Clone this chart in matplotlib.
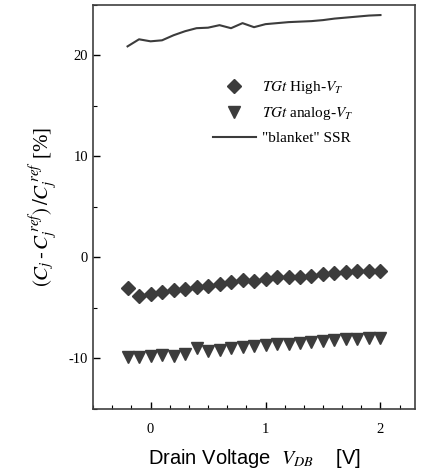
import matplotlib
matplotlib.use("Agg")
import matplotlib.pyplot as plt
from matplotlib.ticker import MultipleLocator

plt.rcParams['font.family'] = ['Liberation Serif', 'DejaVu Serif']
plt.rcParams['mathtext.fontset'] = 'stix'
plt.rcParams['axes.unicode_minus'] = False

# drain voltage steps
vdb = [-0.2, -0.1, 0.0, 0.1, 0.2, 0.3, 0.4, 0.5, 0.6, 0.7, 0.8, 0.9,
       1.0, 1.1, 1.2, 1.3, 1.4, 1.5, 1.6, 1.7, 1.8, 1.9, 2.0]

# TGt High-VT (diamonds)
high_vt = [-3.0, -3.8, -3.57, -3.4, -3.23, -3.13, -2.97, -2.8, -2.63, -2.4, -2.23, -2.37,
           -2.13, -1.97, -1.97, -1.97, -1.8, -1.63, -1.57, -1.47, -1.37, -1.37, -1.3]

# TGt analog-VT (triangles)
analog_vt = [-9.9, -9.9, -9.8, -9.7, -9.8, -9.57, -9.0, -9.3, -9.13, -8.97, -8.9, -8.8,
             -8.63, -8.57, -8.53, -8.47, -8.4, -8.3, -8.13, -8.03, -8.03, -7.97, -7.97]

# "blanket" SSR
blanket = [20.9, 21.6, 21.4, 21.5, 22.0, 22.4, 22.7, 22.75, 23.0, 22.7, 23.2, 22.8,
           23.1, 23.2, 23.3, 23.35, 23.4, 23.5, 23.65, 23.75, 23.85, 23.95, 24.0]

fig = plt.figure(figsize=(4.23, 4.72), dpi=100)
ax = fig.add_axes([0.22, 0.1335, 0.761, 0.856])

col = '#3c3c3c'
ax.plot(vdb, high_vt, linestyle='none', marker='D', markersize=7.5, color=col,
        label=r'$TGt$ High-$V_T$')
ax.plot(vdb, analog_vt, linestyle='none', marker='v', markersize=9, color=col,
        label=r'$TGt$ analog-$V_T$')
ax.plot(vdb, blanket, '-', color=col, linewidth=1.5, label='"blanket" SSR')

ax.set_xlim(-0.5, 2.3)
ax.set_ylim(-15, 25)
ax.xaxis.set_major_locator(MultipleLocator(1))
ax.xaxis.set_minor_locator(MultipleLocator(1 / 6))
ax.yaxis.set_major_locator(MultipleLocator(10))
ax.yaxis.set_minor_locator(MultipleLocator(5))
ax.tick_params(which='both', direction='in', top=False, right=False, labelsize=10.5)
ax.tick_params(which='major', length=5, width=1)
ax.tick_params(which='minor', length=3, width=0.8)
ax.tick_params(axis='x', pad=10)
for s in ax.spines.values():
    s.set_linewidth(1.2)
    s.set_color('#404040')

ax.set_ylabel(r'$(C_j\,\text{-}\,C_j^{\,ref})\,/C_j^{\,ref}$ [%]', fontsize=15, labelpad=6)
ax.set_xlabel(r'Drain Voltage  $V_{DB}$    [V]', fontsize=14.5,
              family=['Liberation Sans', 'DejaVu Sans'], labelpad=8)

ax.legend(loc='upper left', bbox_to_anchor=(0.33, 0.85), frameon=False, fontsize=11,
          handlelength=2.8, handletextpad=0.4, labelspacing=0.6)

fig.savefig('out.png', dpi=100)
